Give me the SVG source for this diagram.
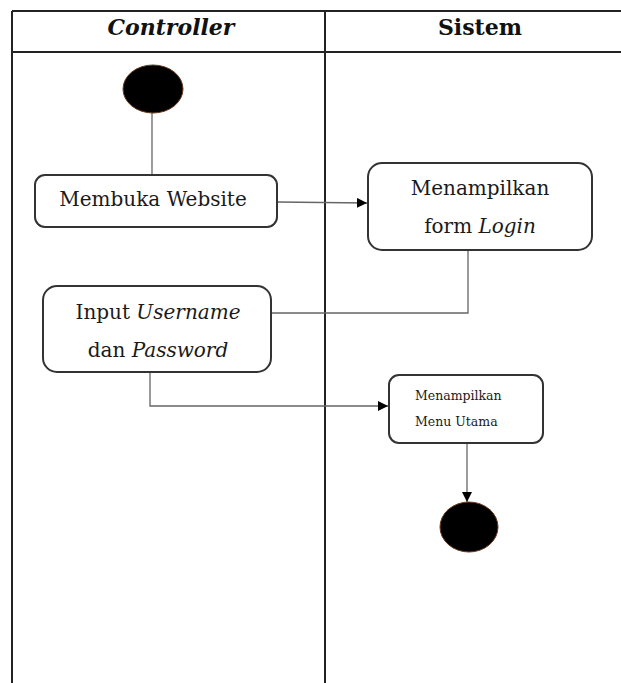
<svg xmlns="http://www.w3.org/2000/svg" width="621" height="683" viewBox="0 0 621 683">
  <defs>
    <marker id="arrow" viewBox="0 0 10 10" refX="10" refY="5" markerWidth="10" markerHeight="10" markerUnits="userSpaceOnUse" orient="auto">
      <path d="M0,0 L10,5 L0,10 z" fill="#000"/>
    </marker>
    <style>
      .lane { stroke: #222; stroke-width: 2; fill: none; }
      .box { fill: #fff; stroke: #333; stroke-width: 2; }
      .conn { stroke: #666; stroke-width: 1.3; fill: none; }
      .dot { fill: #000; stroke: #6b3a1a; stroke-width: 1; }
      text { font-family: "DejaVu Serif", "Liberation Serif", serif; fill: #1a1a1a; }
      .txt { text-anchor: middle; font-size: 20px; }
      .head { font-weight: bold; font-size: 22px; fill: #111; text-anchor: middle; }
    </style>
  </defs>
  <rect width="621" height="683" fill="#fff"/>

  <!-- swimlane frame -->
  <g id="lanes">
    <line class="lane" x1="12" y1="11" x2="621" y2="11"/>
    <line class="lane" x1="12" y1="52" x2="621" y2="52"/>
    <line class="lane" x1="12" y1="11" x2="12" y2="683"/>
    <line class="lane" x1="325" y1="11" x2="325" y2="683"/>
    <text class="head" x="171" y="35" font-style="italic">Controller</text>
    <text class="head" x="480" y="35">Sistem</text>
  </g>

  <!-- connectors -->
  <g id="connectors">
    <line class="conn" x1="152" y1="113" x2="152" y2="175"/>
    <line class="conn" x1="277" y1="202" x2="367" y2="203" marker-end="url(#arrow)"/>
    <polyline class="conn" points="468,250 468,313 271,313"/>
    <polyline class="conn" points="150,372 150,406 388,406" marker-end="url(#arrow)"/>
    <line class="conn" x1="467" y1="443" x2="467" y2="502" marker-end="url(#arrow)"/>
  </g>

  <g id="start">
    <ellipse class="dot" cx="153" cy="89" rx="30" ry="24"/>
  </g>

  <g id="membuka-website">
    <rect class="box" x="35" y="175" width="242" height="52" rx="10"/>
    <text class="txt" x="153" y="206">Membuka Website</text>
  </g>

  <g id="form-login">
    <rect class="box" x="368" y="163" width="224" height="87" rx="14"/>
    <text class="txt" x="480" y="195">Menampilkan</text>
    <text class="txt" x="480" y="233">form <tspan font-style="italic">Login</tspan></text>
  </g>

  <g id="input-login">
    <rect class="box" x="43" y="286" width="228" height="86" rx="14"/>
    <text class="txt" x="158" y="319">Input <tspan font-style="italic">Username</tspan></text>
    <text class="txt" x="158" y="357">dan <tspan font-style="italic">Password</tspan></text>
  </g>

  <g id="menu-utama">
    <rect class="box" x="389" y="375" width="154" height="68" rx="10"/>
    <text x="415" y="400" font-size="12.5">Menampilkan</text>
    <text x="415" y="426" font-size="12.5">Menu Utama</text>
  </g>

  <g id="end">
    <ellipse class="dot" cx="469" cy="527" rx="29" ry="25"/>
  </g>
</svg>
